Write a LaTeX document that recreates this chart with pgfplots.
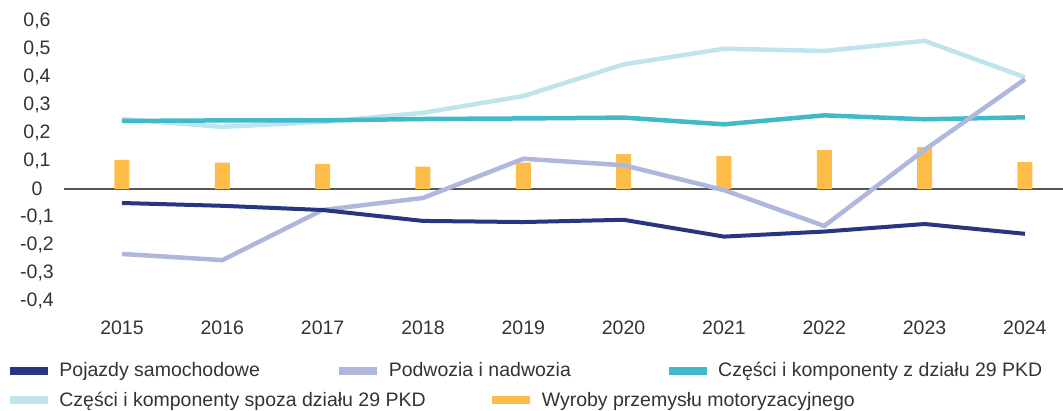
\documentclass[border=0pt]{standalone}
\usepackage{pgfplots}
\pgfplotsset{compat=1.18}
\usepackage{fontspec}
\setmainfont{Liberation Sans}
\definecolor{cnavy}{RGB}{40,53,128}
\definecolor{clav}{RGB}{176,183,221}
\definecolor{cteal}{RGB}{64,186,200}
\definecolor{clight}{RGB}{190,228,238}
\definecolor{cyel}{RGB}{253,189,72}
\definecolor{ctxt}{RGB}{51,51,51}
\definecolor{czero}{RGB}{85,85,85}
\newcommand{\fs}{\fontsize{19.5}{23}\selectfont}
\begin{document}
\begin{tikzpicture}
\path[use as bounding box] (-64pt,-109pt) rectangle (999pt,301pt);
\begin{axis}[
  at={(0pt,0pt)}, anchor=south west,
  scale only axis, width=999pt, height=280pt,
  xmin=2014.422, xmax=2024.379, ymin=-0.4, ymax=0.6,
  xtick={2015,...,2024},
  ytick={-0.4,-0.3,...,0.6},
  axis line style={draw=none},
  major tick length=0pt,
  tick label style={font=\fs, text=ctxt},
  xticklabel style={anchor=center, yshift=-26.5pt, /pgf/number format/1000 sep={}},
  yticklabel style={anchor=center, xshift=-27pt, /pgf/number format/.cd, use comma, fixed, precision=1, assume math mode=true},
  x tick label style={/pgf/number format/.cd, 1000 sep={}, assume math mode=true},
  extra y ticks={0}, extra y tick labels={},
  extra y tick style={grid=major, major grid style={draw=czero, line width=2pt}},
  clip=false,
  legend style={draw=none, fill=none, inner sep=0pt, outer sep=0pt,
    at={(axis description cs:-0.05405,-0.2482)}, anchor=west,
    font=\fs, text=ctxt, nodes={inner xsep=0pt},
    /tikz/every odd column/.append style={column sep=12pt}},
  legend columns=3,
  legend cell align=left,
]
\addlegendimage{legend image code/.code={\fill[cnavy] (0pt,-3.5pt) rectangle (37pt,3.5pt);}}
\addlegendentry{\makebox[280pt][l]{Pojazdy samochodowe}}
\addlegendimage{legend image code/.code={\fill[clav] (0pt,-3.5pt) rectangle (37pt,3.5pt);}}
\addlegendentry{\makebox[280pt][l]{Podwozia i nadwozia}}
\addlegendimage{legend image code/.code={\fill[cteal] (0pt,-3.5pt) rectangle (37pt,3.5pt);}}
\addlegendentry{Części i komponenty z działu 29 PKD}

\addplot[forget plot, ybar, bar width=15pt, fill=cyel, draw=none] coordinates {
(2015,0.104) (2016,0.094) (2017,0.090) (2018,0.080) (2019,0.094)
(2020,0.125) (2021,0.118) (2022,0.139) (2023,0.150) (2024,0.096)};
\addplot[forget plot, line width=4.5pt, color=clight] coordinates {
(2015,0.250) (2016,0.222) (2017,0.240) (2018,0.272) (2019,0.332)
(2020,0.445) (2021,0.501) (2022,0.493) (2023,0.529) (2024,0.399)};
\addplot[forget plot, line width=4.5pt, color=cteal] coordinates {
(2015,0.243) (2016,0.245) (2017,0.245) (2018,0.250) (2019,0.252)
(2020,0.255) (2021,0.231) (2022,0.263) (2023,0.249) (2024,0.256)};
\addplot[forget plot, line width=4.5pt, color=clav] coordinates {
(2015,-0.232) (2016,-0.254) (2017,-0.075) (2018,-0.032) (2019,0.108)
(2020,0.085) (2021,-0.004) (2022,-0.132) (2023,0.140) (2024,0.392)};
\addplot[forget plot, line width=4pt, color=cnavy] coordinates {
(2015,-0.050) (2016,-0.060) (2017,-0.075) (2018,-0.114) (2019,-0.118)
(2020,-0.110) (2021,-0.170) (2022,-0.152) (2023,-0.125) (2024,-0.160)};
\end{axis}
\begin{axis}[
  at={(0pt,0pt)}, anchor=south west,
  scale only axis, width=999pt, height=280pt,
  xmin=0, xmax=1, ymin=0, ymax=1, hide axis,
  legend style={draw=none, fill=none, inner sep=0pt, outer sep=0pt,
    at={(axis description cs:-0.05405,-0.3536)}, anchor=west,
    font=\fs, text=ctxt, nodes={inner xsep=0pt},
    /tikz/every odd column/.append style={column sep=12pt}},
  legend columns=2,
  legend cell align=left,
]
\addlegendimage{legend image code/.code={\fill[clight] (0pt,-3.5pt) rectangle (37pt,3.5pt);}}
\addlegendentry{\makebox[433pt][l]{Części i komponenty spoza działu 29 PKD}}
\addlegendimage{legend image code/.code={\fill[cyel] (0pt,-3.5pt) rectangle (37pt,3.5pt);}}
\addlegendentry{Wyroby przemysłu motoryzacyjnego}
\end{axis}
\end{tikzpicture}
\end{document}
